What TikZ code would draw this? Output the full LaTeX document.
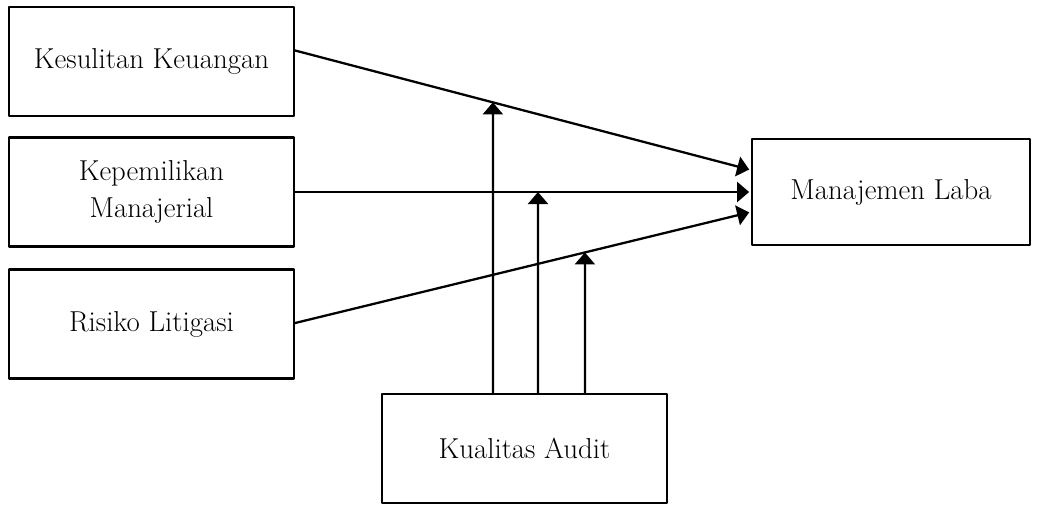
\documentclass[tikz,border=0pt]{standalone}
\usepackage{amsmath,amssymb}
\usepackage{xcolor}
\usetikzlibrary{arrows.meta,calc}

\begin{document}
\begin{tikzpicture}[x=0.02cm, y=-0.02cm, line cap=round, line join=round,
    >={Triangle[width=0.4cm, length=0.24cm]},
    varbox/.style={draw, line width=1.3pt, minimum width=5.7cm, minimum height=2.18cm,
      align=center, font=\fontsize{16.4}{21}\selectfont, inner sep=2pt},
    link/.style={->, line width=1.3pt, shorten >=1pt}]

  % ---- Frame ----
  \useasboundingbox (0,0) rectangle (1037,505);

  % ---- Variables ----
  \node[varbox] (kk) at (151.5,61.5) {Kesulitan Keuangan};
  \node[varbox] (km) at (151.5,192) {Kepemilikan\\Manajerial};
  \node[varbox] (rl) at (151.5,324) {Risiko Litigasi};
  \node[varbox, minimum width=5.56cm, minimum height=2.12cm] (ml) at (891,192) {Manajemen Laba};
  \node[varbox] (ka) at (524.5,448.5) {Kualitas Audit};

  % ---- Ends of the direct paths ----
  \coordinate (k1) at ($(kk.east)+(0,-11)$);
  \coordinate (m1) at ($(ml.west)+(0,-22)$);
  \coordinate (k2) at (km.east);
  \coordinate (m2) at (ml.west);
  \coordinate (k3) at ($(rl.east)+(0,-1)$);
  \coordinate (m3) at ($(ml.west)+(0,20)$);

  % ---- Direct paths ----
  \draw[link] (k1) -- (m1);
  \draw[link] (k2) -- (m2);
  \draw[link] (k3) -- (m3);

  % ---- Moderating paths from Kualitas Audit ----
  \foreach \i/\dx in {1/112, 2/157, 3/204}{
    \coordinate (a\i) at ($(ka.north west)+(\dx,0)$);
    \coordinate (u\i) at (a\i |- kk.north);
  }
  \coordinate (t1) at (intersection of k1--m1 and a1--u1);
  \coordinate (t2) at (intersection of k2--m2 and a2--u2);
  \coordinate (t3) at (intersection of k3--m3 and a3--u3);
  \foreach \i in {1,2,3}
    \draw[link, shorten >=0pt] (a\i) -- (t\i);

\end{tikzpicture}
\end{document}
